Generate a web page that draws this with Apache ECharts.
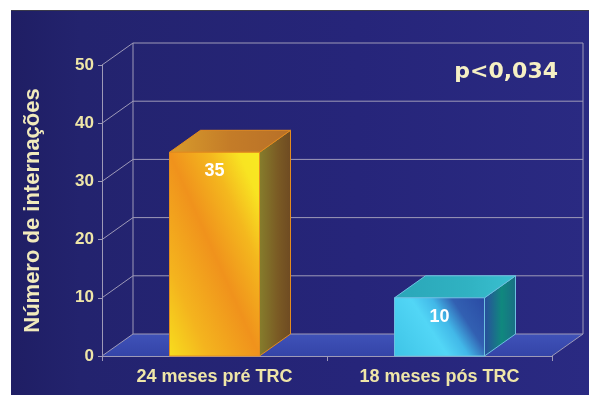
<!DOCTYPE html>
<html>
<head>
<meta charset="utf-8">
<script src="https://cdn.jsdelivr.net/npm/echarts@6/dist/echarts.min.js"></script>
<style>
  html, body { margin: 0; padding: 0; background: #fff; }
  #chart {
    position: absolute; left: 11px; top: 11px; width: 578px; height: 384px;
    background: linear-gradient(90deg, #1f1e64 0%, #23236e 12%, #26257a 60%, #2a2a82 100%);
    box-shadow: 0 -1px 0 #3a3a4a;
  }
</style>
</head>
<body>
<div id="chart"></div>
<script>
const categories = ["24 meses pré TRC", "18 meses pós TRC"];
const internacoes = [35, 10];
const yTicks = [0, 10, 20, 30, 40, 50];
const yAxisName = "Número de internações";
const pValueText = "p<0,034";

// visual settings
const FONT = "'Liberation Sans', Arial, sans-serif";
const LINE = "#9e9ab8";
const LABEL = "#efe6a8";
const DEPTH = [31, -22];

const grad = (x, y, x2, y2, stops) =>
  new echarts.graphic.LinearGradient(x, y, x2, y2,
    stops.map(([offset, color]) => ({ offset, color })));

const barFaces = [
  {
    // yellow at bottom-left and top-right, orange band through the middle
    front: () => grad(0, 1, 1.67, 0.67, [[0, "#f7de1e"], [0.22, "#f4b41e"], [0.5, "#f0921c"], [0.72, "#f4b81e"], [0.88, "#f8e422"], [1, "#f8ea22"]]),
    top: () => grad(0, 0, 1, 0, [[0, "#d89c2c"], [0.5, "#c47c28"], [1, "#b87028"]]),
    side: () => grad(0, 0, 1, 0, [[0, "#867e2c"], [0.6, "#7a5a24"], [1, "#6e4a22"]]),
    edge: "#e48c1e",
  },
  {
    front: () => grad(0, 1, 1, 0, [[0, "#3ec4e6"], [0.42, "#52d6f6"], [0.58, "#42b8e8"], [0.74, "#3260b2"], [1, "#2a4aa4"]]),
    top: () => grad(0, 0, 1, 0, [[0, "#2aa6b8"], [0.6, "#30b2c2"], [1, "#3ac0d0"]]),
    side: () => grad(0, 0, 1, 0, [[0, "#2a4c9e"], [0.55, "#10887e"], [1, "#1a6e86"]]),
    edge: "#6cc0e0",
  },
];

const chart = echarts.init(document.getElementById("chart"));

const renderWall = (params, api) => {
  const cs = params.coordSys;
  const v = api.value(1);
  const y = api.coord([0, v])[1];
  const x0 = cs.x;
  const x1 = cs.x + cs.width;
  const [dx, dy] = DEPTH;
  const line = { stroke: LINE, lineWidth: 1, fill: null };
  const children = [];
  if (v === yTicks[0]) {
    const yTop = api.coord([0, yTicks[yTicks.length - 1]])[1];
    children.push({
      type: "polygon",
      shape: { points: [[x0, y], [x1, y], [x1 + dx, y + dy], [x0 + dx, y + dy]] },
      style: { fill: grad(0, 1, 0, 0, [[0, "#3444a8"], [1, "#3f52b8"]]) },
    });
    children.push({ type: "line", shape: { x1: x0 + dx, y1: y + dy, x2: x0 + dx, y2: yTop + dy }, style: line });
    children.push({ type: "line", shape: { x1: x1 + dx, y1: y + dy, x2: x1 + dx, y2: yTop + dy }, style: line });
    children.push({ type: "line", shape: { x1: x1, y1: y, x2: x1 + dx, y2: y + dy }, style: line });
  }
  children.push({
    type: "polyline",
    shape: { points: [[x0, y], [x0 + dx, y + dy], [x1 + dx, y + dy]] },
    style: line,
  });
  return { type: "group", children };
};

const renderBar = (params, api) => {
  const i = api.value(0);
  const v = api.value(1);
  const top = api.coord([i, v]);
  const base = api.coord([i, 0]);
  const w = api.size([1, 0])[0] * 0.4;
  const xl = top[0] - w / 2;
  const xr = top[0] + w / 2;
  const yt = top[1];
  const yb = base[1];
  const [dx, dy] = DEPTH;
  const f = barFaces[i];
  return {
    type: "group",
    children: [
      {
        type: "polygon",
        shape: { points: [[xr, yt], [xr + dx, yt + dy], [xr + dx, yb + dy], [xr, yb]] },
        style: { fill: f.side(), stroke: f.edge, lineWidth: 1 },
      },
      {
        type: "polygon",
        shape: { points: [[xl, yt], [xl + dx, yt + dy], [xr + dx, yt + dy], [xr, yt]] },
        style: { fill: f.top(), stroke: f.edge, lineWidth: 1 },
      },
      {
        type: "rect",
        shape: { x: xl, y: yt, width: w, height: yb - yt },
        style: { fill: f.front(), stroke: f.edge, lineWidth: 1 },
      },
      {
        type: "text",
        style: {
          text: String(v), x: top[0], y: yt + 19,
          fill: "#ffffff", fontSize: 18, fontWeight: "bold", fontFamily: FONT,
          align: "center", verticalAlign: "middle",
        },
      },
    ],
  };
};

const option = {
  animation: false,
  backgroundColor: "transparent",
  grid: { left: 91, right: 37, top: 54, bottom: 39 },
  xAxis: {
    type: "category",
    data: categories,
    axisLine: { lineStyle: { color: LINE, width: 1 } },
    axisTick: { show: true, length: 5, lineStyle: { color: LINE } },
    axisLabel: { color: LABEL, fontSize: 18, fontWeight: "bold", fontFamily: FONT, margin: 12 },
    splitLine: { show: false },
  },
  yAxis: {
    type: "value",
    min: 0,
    max: 50,
    interval: 10,
    name: yAxisName,
    nameLocation: "middle",
    nameRotate: 90,
    nameGap: 58,
    nameTextStyle: { color: "#f1eabc", fontSize: 22, fontWeight: "bold", fontFamily: FONT },
    axisLine: { show: true, lineStyle: { color: LINE, width: 1 } },
    axisTick: { show: true, length: 4, lineStyle: { color: LINE } },
    axisLabel: { color: LABEL, fontSize: 17, fontWeight: "bold", fontFamily: FONT, margin: 8 },
    splitLine: { show: false },
  },
  graphic: [
    {
      type: "text",
      right: 31,
      top: 50,
      style: {
        text: pValueText,
        fill: "#f6f0c4",
        fontSize: 22,
        fontWeight: "bold",
        fontFamily: "'DejaVu Sans', Verdana, sans-serif",
      },
    },
  ],
  series: [
    {
      type: "custom",
      name: "parede",
      renderItem: renderWall,
      data: yTicks.map((t) => [0, t]),
      silent: true,
    },
    {
      type: "custom",
      name: "internações",
      renderItem: renderBar,
      data: internacoes.map((v, i) => [i, v]),
    },
  ],
};

chart.setOption(option);
window.addEventListener("resize", () => chart.resize());
</script>
</body>
</html>
